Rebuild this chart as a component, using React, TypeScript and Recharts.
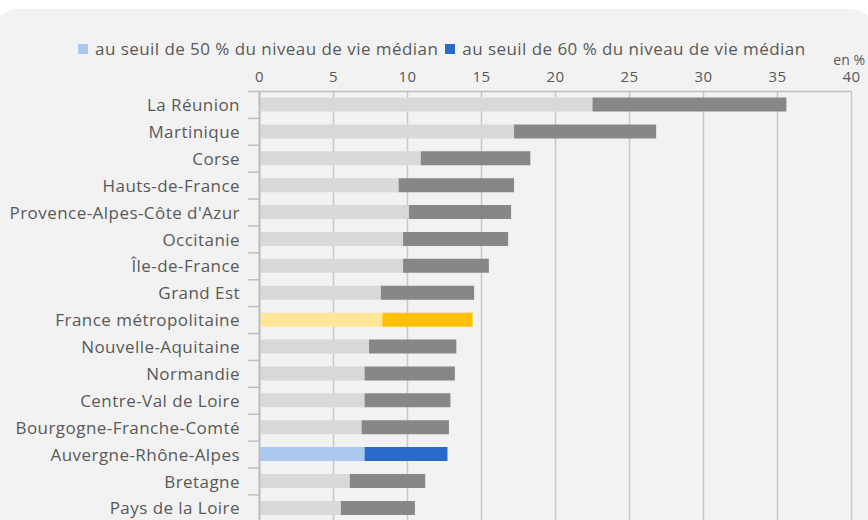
import React from "react";
import { BarChart, Bar, XAxis, YAxis, CartesianGrid, Cell, Legend } from "recharts";

const categories = [
  "La Réunion",
  "Martinique",
  "Corse",
  "Hauts-de-France",
  "Provence-Alpes-Côte d'Azur",
  "Occitanie",
  "Île-de-France",
  "Grand Est",
  "France métropolitaine",
  "Nouvelle-Aquitaine",
  "Normandie",
  "Centre-Val de Loire",
  "Bourgogne-Franche-Comté",
  "Auvergne-Rhône-Alpes",
  "Bretagne",
  "Pays de la Loire",
];
const seuil50 = [22.5, 17.2, 10.9, 9.4, 10.1, 9.7, 9.7, 8.2, 8.3, 7.4, 7.1, 7.1, 6.9, 7.1, 6.1, 5.5];
const seuil60 = [35.6, 26.8, 18.3, 17.2, 17.0, 16.8, 15.5, 14.5, 14.4, 13.3, 13.2, 12.9, 12.8, 12.7, 11.2, 10.5];
const xTicks = [0, 5, 10, 15, 20, 25, 30, 35, 40];
const legendLabels = [
  "au seuil de 50 % du niveau de vie médian",
  "au seuil de 60 % du niveau de vie médian",
];
const unitLabel = "en %";

const FONT = "'Open Sans', sans-serif";
const TEXT = "#595959";
const AXIS = "#bfbfbf";

const COLORS: Record<string, [string, string]> = {
  default: ["#d9d9d9", "#878787"],
  "France métropolitaine": ["#ffe699", "#ffc000"],
  "Auvergne-Rhône-Alpes": ["#abc9f0", "#2a6ac8"],
};

const data = categories.map((name, i) => ({
  name,
  v50: seuil50[i],
  diff: Math.round((seuil60[i] - seuil50[i]) * 10) / 10,
}));

const PLOT_TOP = 91.5;
const PLOT_BOTTOM = 521.8;
const PLOT_LEFT = 259.5;
const BAND = (PLOT_BOTTOM - PLOT_TOP) / categories.length;

const colorFor = (name: string) => COLORS[name] || COLORS.default;

const YTick = (props: any) => {
  const { y, payload } = props;
  return (
    <g>
      <line x1={248} x2={PLOT_LEFT} y1={y - BAND / 2} y2={y - BAND / 2} stroke={AXIS} strokeWidth={1.5} />
      <text x={240} y={y} dy="0.36em" textAnchor="end" fill={TEXT} fontSize={17} letterSpacing={0.45} fontFamily={FONT}>
        {payload.value}
      </text>
    </g>
  );
};

const LegendContent = () => (
  <div style={{ display: "flex", alignItems: "center", fontFamily: FONT, fontSize: 17, letterSpacing: 0.45, color: TEXT, whiteSpace: "nowrap" }}>
    {legendLabels.map((lab, i) => (
      <div key={lab} style={{ display: "flex", alignItems: "center", marginRight: 7 }}>
        <span
          style={{
            display: "inline-block",
            width: 10,
            height: 10,
            background: i === 0 ? COLORS["Auvergne-Rhône-Alpes"][0] : COLORS["Auvergne-Rhône-Alpes"][1],
            marginRight: 7,
          }}
        />
        <span>{lab}</span>
      </div>
    ))}
  </div>
);

export default function App() {
  return (
    <div style={{ position: "absolute", left: 0, top: 0, width: 868, height: 520, overflow: "hidden", background: "#ffffff" }}>
      <div
        style={{
          position: "absolute",
          left: -8,
          top: 9,
          width: 884,
          height: 540,
          background: "#f2f2f2",
          borderRadius: 26,
        }}
      />
      <div
        style={{
          position: "absolute",
          right: 3,
          top: 52,
          fontFamily: FONT,
          fontSize: 14,
          color: TEXT,
          lineHeight: "16px",
        }}
      >
        {unitLabel}
      </div>
      <div style={{ position: "absolute", left: 0, top: 0 }}>
        <BarChart
          width={868}
          height={530}
          data={data}
          layout="vertical"
          margin={{ top: PLOT_TOP - 20, right: 868 - 851.5, left: 0, bottom: 530 - PLOT_BOTTOM }}
          barSize={14}
        >
          <CartesianGrid horizontal={false} vertical stroke="#c8c8c8" strokeWidth={1.5} />
          <XAxis
            type="number"
            orientation="top"
            domain={[0, 40]}
            ticks={xTicks}
            height={20}
            tickLine={false}
            tickMargin={4}
            axisLine={{ stroke: AXIS, strokeWidth: 1.5 }}
            tick={{ fill: TEXT, fontSize: 15, fontFamily: FONT, letterSpacing: 0.3 }}
            interval={0}
          />
          <YAxis
            type="category"
            dataKey="name"
            width={PLOT_LEFT}
            tickLine={false}
            axisLine={{ stroke: AXIS, strokeWidth: 2 }}
            tick={<YTick />}
            interval={0}
          />
          <Legend
            verticalAlign="middle"
            align="center"
            wrapperStyle={{ position: "absolute", top: 37, left: 78, width: "auto" }}
            content={<LegendContent />}
          />
          <Bar dataKey="v50" stackId="a" isAnimationActive={false}>
            {data.map((d) => (
              <Cell key={d.name} fill={colorFor(d.name)[0]} />
            ))}
          </Bar>
          <Bar dataKey="diff" stackId="a" isAnimationActive={false}>
            {data.map((d) => (
              <Cell key={d.name} fill={colorFor(d.name)[1]} />
            ))}
          </Bar>
        </BarChart>
      </div>
    </div>
  );
}
